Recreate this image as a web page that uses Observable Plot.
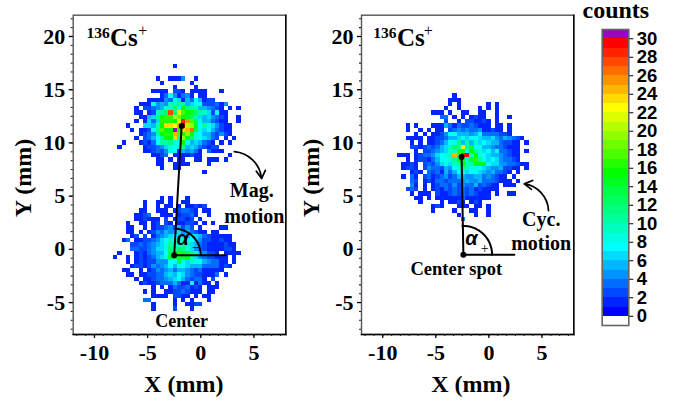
<!DOCTYPE html>
<html><head><meta charset="utf-8">
<script src="https://cdn.jsdelivr.net/npm/d3@7"></script>
<script src="https://cdn.jsdelivr.net/npm/@observablehq/plot@0.6"></script>
<style>html,body{margin:0;padding:0;background:#fff}#c{position:relative;width:686px;height:402px;overflow:hidden}</style>
</head><body><div id="c"></div>
<script>
// counts per 0.4 mm pixel, base-36 digit per cell, rows from the top
const upperSpot = {top:17.2,left:-8,rows:[
"..............1","","",
"..........1..1114..1",
"...........1......1",
"..............1....1",
".........1111.221.1111...1",
"...........13741341.11",
"........1111438615375122",
"......111845499aa5677222314",
".....1.2234589c7fba9554321.1.1",
".....11.129acrblhfeca962711",
"......1156afggkifeca6564321..1",
".....1.1636gggflsphd8553211..1",
"...1...6659fnnmotkje7a864211",
"....1.1127ahfeugnoqd86753211",
"......1234afggohgjf875532421",
".....1.2357affnajec876532.1.1",
"..1...12137a9b87f8565321.1.1",
".1.....122346878b56532122",
".......11232487154531.3111",
".........1123.1111211......1",
"..........11.1.11..11.111.1",
"..........11..1111....1",
"...........1..11",
".....................1"]};
const centerSpot = {top:4.8,left:-8,rows:[
"...........1.1...1",
".......1..11.1..11",
".......1..1.11.1.11212",
"......11..111.123321.11",
".....1123..111.12231..1",
".....112111.2.12212.1",
"...1..11.12.21.11221.1.1",
"...11..1.1223425242.1....11",
"...11.1.12435446453211.11",
"....12.2.1345676657653211111",
"..13.11223467977887642211211",
"....223234568a989965321111211",
"....332234668b9cb864321111221",
".1...12134557cfgedb964221.1111",
"1..1.12123568dedef964322111.1",
"...1.1212244477d76887543311.1",
"....122124345758765553333121",
"..11..1.124345355432311111",
"...11.1122335657643221113.1",
".....1.112334567532331.2",
"......12112333531171311.1",
".........1.1.13223121.111",
".......1.1..112232111.11",
".........1111.2211.1.11",
".......33.....1.1.1...1",
".........1....1..1122",
".........1....2...1"]};
const cycSpot = {top:14.4,left:-8.4,rows:[
".............1",
"............111",
"............1.1......1.1",
"...........1..1....1.1.1",
"........111.1..11..11..1",
"..........33.1.1.1211..1..1",
"...........2..1.221121.1",
"..1.1...11153132232111.11.1",
"..1..1.1.11.2343433411211.1",
"....1.1.1124775554583333221",
"..1111.11223556767765564354321",
"...1.1.1123578b5a596765532211.1",
"...2212323569c9lad77554332111",
"....1.22345689gd7fa8675733211.1",
"111.123346789ocst9f8765543211",
"..1.122135778aec9dga767643321",
".1121.23246869af9aefe7664433211",
".1221.243325478a9887654452211.1",
"...121.32315357867765453321.1",
".1.31.23123423554455343211.1",
"...32.121332333454453332111.1",
"...41.1.1233242433523211.111",
"..232.1.1213232323121111",
"...1.111.2112323232111.1..11",
"....11.1.1111113111111",
".....1....1.1121.121",
"........121...111.11.1",
"........1....1...11..1",
"..............1...1..1",
"...............4"]};
const palette = ["#ffffff","#0000ff","#0024ff","#0049ff","#006dff","#0092ff","#00b6ff","#00dbff","#00ffff",
"#00ffdf","#00ffbf","#00ff9f","#00ff7f","#00ff60","#00ff40","#00ff20","#00ff00",
"#24ff00","#49ff00","#6dff00","#92ff00","#b6ff00","#dbff00","#ffff00",
"#ffdb00","#ffb600","#ff9200","#ff6d00","#ff4900","#ff2400","#ff0000","#a000c0"];
const barLevels = d3.range(-1,31);
const barTicks = d3.range(0,31,2);
const xMajor = [-10,-5,0,5];
const yMajor = [-5,0,5,10,15,20];
const xMinor = d3.range(-14,10).map(k=>k*5/6).filter(v=>v>=-12&&v<=8);
const yMinor = d3.range(-9,27).map(k=>k*5/6).filter(v=>v>=-8&&v<=22);

const serif = "'Liberation Serif','Times New Roman',serif";
const sans = "'Liberation Sans',Arial,sans-serif";
const colorScale = {type:"threshold",domain:d3.range(0,31),range:palette};

function toCells(spot){
  const out=[];
  spot.rows.forEach((row,j)=>{[...row].forEach((ch,i)=>{
    if(ch==="."||ch===" ")return;
    out.push({x:spot.left+0.4*i,y:spot.top-0.4*j,n:parseInt(ch,36)});
  });});
  return out;
}
const arc=(cx,cy,r,a1)=>d3.range(0,a1+0.01,a1/40).map(a=>({x:cx+r*Math.cos(a*Math.PI/180),y:cy+r*Math.sin(a*Math.PI/180)}));
const T=(str,x,y,size,extra={})=>Plot.text([str],{x:()=>x,y:()=>y,text:d=>d,fontSize:size,fontWeight:"bold",fontFamily:serif,lineAnchor:"bottom",textAnchor:"middle",fill:"#000",...extra});
const L=(pts,w=2)=>Plot.line(pts,{x:"x",y:"y",stroke:"#000",strokeWidth:w});

function axes(){return [
  Plot.axisX({ticks:xMinor,tickSize:2,tickFormat:()=>"",strokeWidth:1.1,stroke:"#222",label:null}),
  Plot.axisX({ticks:xMajor,tickSize:4,tickPadding:6,tickFormat:d=>String(d),fontSize:22,fontWeight:"bold",fontFamily:serif,fill:"#000",strokeWidth:1.3,label:null}),
  Plot.axisY({ticks:yMinor,tickSize:2,tickFormat:()=>"",strokeWidth:1.1,stroke:"#222",label:null}),
  Plot.axisY({ticks:yMajor,tickSize:4,tickPadding:4,tickFormat:d=>String(d),fontSize:22,fontWeight:"bold",fontFamily:serif,fill:"#000",strokeWidth:1.3,label:null}),
];}
function frame(){return [
  Plot.frame({stroke:"#555",strokeWidth:1.4}),
  Plot.frame({anchor:"bottom",stroke:"#000",strokeWidth:1.4}),
  Plot.frame({anchor:"right",stroke:"#000",strokeWidth:1.4})
];}
const cellMark=(cells)=>Plot.rect(cells,{x1:d=>d.x-.2,x2:d=>d.x+.2,y1:d=>d.y-.2,y2:d=>d.y+.2,fill:"n",shapeRendering:"crispEdges"});
const ion=(x136,xCs,xPlus)=>[
  T("136",x136,19.9,15.5,{textAnchor:"start"}),
  T("Cs",xCs,19.14,25,{textAnchor:"start"}),
  T("+",xPlus,20.0,16,{textAnchor:"start",fontWeight:"normal"})
];

const left = Plot.plot({
  width:288,height:402,marginLeft:72.7,marginRight:2.7,marginTop:14.7,marginBottom:68,
  style:{position:"absolute",left:"0px",top:"0px",background:"transparent",overflow:"visible"},
  x:{domain:[-12,8],axis:null},y:{domain:[-8,22],axis:null},color:colorScale,
  marks:[
    cellMark(toCells(upperSpot)),cellMark(toCells(centerSpot)),
    ...frame(),...axes(),
    L([{x:-2.5,y:-.56},{x:-1.8,y:11.6}]),
    L([{x:-2.5,y:-.56},{x:2.35,y:-.56}]),
    L(arc(-2.5,-.56,2.5,87)),
    Plot.dot([{x:-2.5,y:-.56},{x:-1.8,y:11.6}],{x:"x",y:"y",r:3,fill:"#000"}),
    Plot.arrow([0],{x1:()=>3.16,y1:()=>9.18,x2:()=>5.72,y2:()=>6.65,bend:40,stroke:"#000",strokeWidth:1.7,headLength:8}),
    ...ion(-10.76,-8.54,-5.88),
    T("Center",-1.8,-7.31,18),
    T("Mag.",4.8,4.9,20),
    T("motion",5.04,2.49,20),
    T("α",-1.7,.45,20,{fontFamily:sans,fontStyle:"italic"}),
    T("−",-.45,-.25,14,{fontWeight:"normal"}),
    T("X (mm)",-1.6,-13.4,24),
    T("Y (mm)",-16.0,6.7,24,{rotate:-90}),
  ]
});
const right = Plot.plot({
  width:292,height:402,marginLeft:73,marginRight:6.7,marginTop:14.7,marginBottom:68,
  style:{position:"absolute",left:"288px",top:"0px",background:"transparent",overflow:"visible"},
  x:{domain:[-12,8],axis:null},y:{domain:[-8,22],axis:null},color:colorScale,
  marks:[
    cellMark(toCells(cycSpot)),
    ...frame(),...axes(),
    L([{x:-2.4,y:-.5},{x:-2.57,y:8.67}]),
    L([{x:-2.4,y:-.5},{x:2.4,y:-.5}]),
    L(arc(-2.4,-.5,2.7,92)),
    Plot.dot([{x:-2.4,y:-.5},{x:-2.57,y:8.67}],{x:"x",y:"y",r:3,fill:"#000"}),
    Plot.arrow([0],{x1:()=>5.62,y1:()=>3.64,x2:()=>3.33,y2:()=>6.15,bend:-40,stroke:"#000",strokeWidth:1.7,headLength:8}),
    ...ion(-10.9,-8.65,-6.14),
    T("Center spot",-3.07,-2.37,18.5),
    T("Cyc.",4.93,2.23,20),
    T("motion",4.93,-.1,20),
    T("α",-1.63,.45,20,{fontFamily:sans,fontStyle:"italic"}),
    T("+",-.4,-.3,14,{fontWeight:"normal"}),
    T("X (mm)",-1.7,-13.4,24),
    T("Y (mm)",-16.0,6.7,24,{rotate:-90}),
  ]
});
const bar = Plot.plot({
  width:106,height:402,marginLeft:21.7,marginRight:57.7,marginTop:29,marginBottom:77,
  style:{position:"absolute",left:"580px",top:"0px",background:"transparent",overflow:"visible"},
  x:{domain:[0,1],axis:null},y:{domain:[-1,31],axis:null},color:colorScale,
  marks:[
    Plot.rect(barLevels,{x1:()=>0,x2:()=>1,y1:d=>d,y2:d=>d+1,fill:d=>d,shapeRendering:"crispEdges"}),
    Plot.frame({stroke:"#666",strokeWidth:1.6}),
    Plot.axisY({anchor:"right",ticks:barTicks,tickSize:4,tickPadding:4,tickFormat:d=>String(d),fontSize:18.5,fontWeight:"bold",fontFamily:sans,fill:"#000",label:null}),
    T("counts",-.74,32.26,24,{textAnchor:"start"}),
  ]
});
const c=document.getElementById("c");
c.append(left,right,bar);
</script></body></html>
